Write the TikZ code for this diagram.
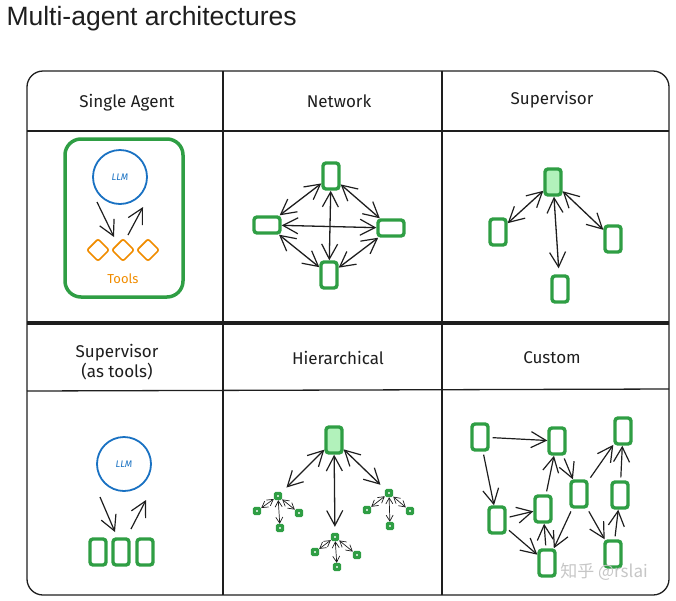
\documentclass[tikz,border=0pt]{standalone}
\usepackage{fontspec}
\setmainfont{Fira Sans}
\newfontfamily\titlefont{Liberation Sans}
\newfontfamily\cjkfont{Noto Sans CJK SC}
\usetikzlibrary{arrows.meta,shapes.geometric}
\definecolor{exgreen}{HTML}{2F9E44}
\definecolor{exlight}{HTML}{B2F2BB}
\definecolor{exblue}{HTML}{1971C2}
\definecolor{exorange}{HTML}{F08C00}
\definecolor{exdark}{HTML}{1E1E1E}
\tikzset{
 tline/.style={draw=exdark, line width=1.3pt},
 ag/.style={draw=exgreen, line width=3.4pt, rounded corners=3pt, minimum width=16pt, minimum height=26pt, inner sep=0pt},
 hag/.style={ag, minimum width=26pt, minimum height=16pt},
 sup/.style={ag, fill=exlight},
 mini/.style={draw=exgreen, line width=3.4pt, rounded corners=0.8pt, minimum size=5pt, inner sep=0pt},
 arr/.style={draw=exdark, line width=1.2pt, -{Straight Barb[length=15pt,width=16pt,line width=1.2pt]}},
 darr/.style={draw=exdark, line width=1.3pt, {Straight Barb[length=15pt,width=16pt,line width=1.2pt]}-{Straight Barb[length=15pt,width=16pt,line width=1.2pt]}},
 sarr/.style={draw=exdark, line width=0.7pt, {Straight Barb[length=6pt,width=7pt,line width=0.7pt]}-{Straight Barb[length=6pt,width=7pt,line width=0.7pt]}},
 lbl/.style={font=\fontsize{17}{20}\selectfont, text=exdark, align=center},
 llm/.style={circle, draw=exblue, line width=1.8pt, minimum size=54pt, inner sep=0pt, font=\itshape\fontsize{9.5}{11}\selectfont, text=exblue},
 tool/.style={rectangle, rotate=45, draw=exorange, line width=1.7pt, minimum size=15.5pt, inner sep=0pt, rounded corners=2pt},
}
\begin{document}
\begin{tikzpicture}[x=1pt,y=-1pt]
\useasboundingbox (0,0) rectangle (676,600);
% title
\node[anchor=west, font=\titlefont\fontsize{26.5}{30}\selectfont, text=exdark] (title) at (3,19) {Multi-agent architectures};
% table
\draw[tline, rounded corners=16pt] (27,71) rectangle (669,595);
\draw[tline] (27,131) -- (669,131);
\draw[tline] (27,391) -- (669,389);
\draw[draw=exdark, line width=3.6pt] (27,323) -- (669,323);
\draw[tline] (223,71) -- (223,595);
\draw[tline] (442,71) -- (442,595);
% headers
\node[lbl] (h1) at (127,103) {Single Agent};
\node[lbl] (h2) at (339,101) {Network};
\node[lbl] (h3) at (552,100) {Supervisor};
\node[lbl] (h4) at (117,362) {Supervisor\\(as tools)};
\node[lbl] (h5) at (338,358) {Hierarchical};
\node[lbl] (h6) at (552,358) {Custom};
% ---- single agent
\draw[draw=exgreen, line width=3.5pt, rounded corners=16pt] (65,139) rectangle (183,297);
\node[llm] (llm1) at (120,177) {LLM};
\node[tool] (t1) at (98,250) {};
\node[tool] (t2) at (123,250) {};
\node[tool] (t3) at (148,250) {};
\node[font=\fontsize{13}{15}\selectfont, text=exorange] (tools) at (123,279) {Tools};
\coordinate (sa1) at (97,202);
\coordinate (sa2) at (114,237);
\coordinate (sa3) at (128,235);
\coordinate (sa4) at (143,207);
\draw[arr] (sa1) -- (sa2);
\draw[arr] (sa3) -- (sa4);
% ---- network
\node[ag] (nt) at (331,176) {};
\node[hag] (nl) at (267,225) {};
\node[hag] (nr) at (391,228) {};
\node[ag] (nb) at (329,275) {};
\draw[darr] (nt) -- (nl);
\draw[darr] (nt) -- (nr);
\draw[darr] (nb) -- (nl);
\draw[darr] (nb) -- (nr);
\draw[darr] (nl) -- (nr);
\draw[darr] (nt) -- (nb);
% ---- supervisor
\node[sup] (st) at (553,182) {};
\node[ag] (sl) at (498,232) {};
\node[ag] (sr) at (613,239) {};
\node[ag] (sb) at (560,289) {};
\draw[darr] (st) -- (sl);
\draw[darr] (st) -- (sr);
\draw[darr, shorten >=6pt] (st) -- (sb);
% ---- supervisor as tools
\node[llm] (llm2) at (124,464) {LLM};
\node[ag] (g1) at (98,552) {};
\node[ag] (g2) at (121,552) {};
\node[ag] (g3) at (145,552) {};
\coordinate (sb1) at (100,497);
\coordinate (sb2) at (115,532);
\coordinate (sb3) at (131,529);
\coordinate (sb4) at (146,500);
\draw[arr] (sb1) -- (sb2);
\draw[arr] (sb3) -- (sb4);
% ---- hierarchical
\node[sup] (ht) at (334,440) {};
\node[mini] (hl) at (278,496) {};
\node[mini] (hc) at (335,537) {};
\node[mini] (hr) at (389,493) {};
\node[mini] (hl1) at (257,511) {};
\node[mini] (hl2) at (299,513) {};
\node[mini] (hl3) at (280,528) {};
\node[mini] (hc1) at (315,552) {};
\node[mini] (hc2) at (357,555) {};
\node[mini] (hc3) at (337,567) {};
\node[mini] (hr1) at (367,510) {};
\node[mini] (hr2) at (410,511) {};
\node[mini] (hr3) at (390,526) {};
\draw[darr, shorten >=6pt] (ht) -- (hl);
\draw[darr, shorten >=6pt] (ht) -- (hc);
\draw[darr, shorten >=6pt] (ht) -- (hr);
\foreach \g in {hl,hc,hr}{
  \draw[sarr] (\g) -- (\g1);
  \draw[sarr] (\g) -- (\g2);
  \draw[sarr] (\g) -- (\g3);
}
% ---- custom
\node[ag] (ca) at (480,437) {};
\node[ag] (cb) at (557,441) {};
\node[ag] (cc) at (623,431) {};
\node[ag] (cd) at (497,520) {};
\node[ag] (ce) at (543,509) {};
\node[ag] (cf) at (579,494) {};
\node[ag] (cg) at (620,495) {};
\node[ag] (ch) at (547,563) {};
\node[ag] (ci) at (613,554) {};
\draw[arr, shorten <=3pt] (ca) -- (cb);
\draw[arr, shorten <=3pt] (ca) -- (cd);
\draw[arr, shorten <=3pt] (cd) -- (ce);
\draw[arr, shorten <=3pt] (cd) -- (ch);
\draw[arr, shorten <=3pt] (ch) -- (ce);
\draw[arr, shorten <=3pt] (ce) -- (cb);
\draw[arr, shorten <=3pt] (cb) -- (cf);
\draw[arr, shorten <=3pt] (cf) -- (cc);
\draw[arr, shorten <=3pt] (cf) -- (ch);
\draw[arr, shorten <=3pt] (cf) -- (ci);
\draw[arr, shorten <=3pt] (ci) -- (cg);
\draw[arr, shorten <=3pt] (cg) -- (cc);
% watermark
\node[font=\cjkfont\fontsize{17}{20}\selectfont, text=gray!45] (wm) at (604,572) {知乎 @rslai};
\end{tikzpicture}
\end{document}
